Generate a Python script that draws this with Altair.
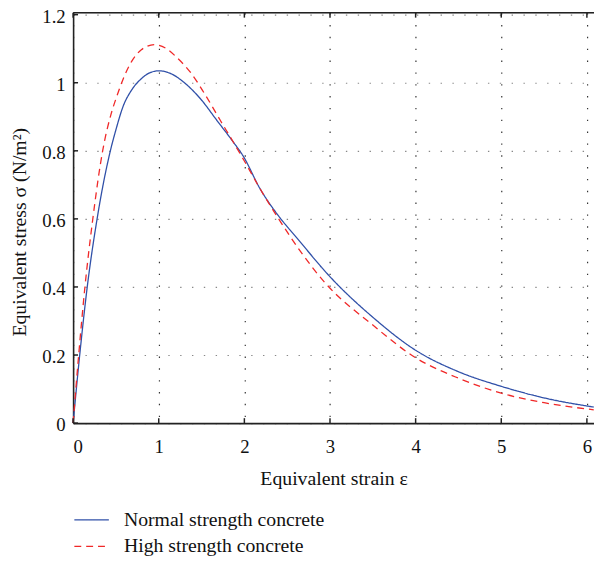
import altair as alt
import pandas as pd

# ---- data ----
normal_strain = [0, 0.077, 0.165, 0.28, 0.435, 0.5, 0.586, 0.682, 0.797, 0.893, 1.0, 1.14, 1.30,
                 1.49, 1.68, 1.87, 1.985, 2.18, 2.41, 2.61, 3.0, 3.5, 4.0, 4.5, 5.0, 5.5, 6.08]
normal_stress = [0, 0.2, 0.4, 0.6, 0.8, 0.862, 0.932, 0.978, 1.012, 1.029, 1.035, 1.027, 1.0,
                 0.952, 0.889, 0.826, 0.785, 0.69, 0.605, 0.545, 0.43, 0.311, 0.214, 0.151, 0.108, 0.074, 0.047]

high_strain = [0, 0.065, 0.138, 0.23, 0.345, 0.44, 0.51, 0.586, 0.682, 0.797, 0.95, 1.085, 1.22,
               1.375, 1.53, 1.72, 1.87, 2.0, 2.18, 2.40, 2.95, 3.5, 4.0, 4.5, 5.0, 5.5, 6.08]
high_stress = [0, 0.2, 0.4, 0.6, 0.8, 0.905, 0.96, 1.012, 1.062, 1.097, 1.112, 1.101, 1.072,
               1.029, 0.97, 0.889, 0.826, 0.77, 0.69, 0.6, 0.41, 0.288, 0.192, 0.132, 0.088, 0.060, 0.039]

series_names = ["Normal strength concrete", "High strength concrete"]
series_colors = ["#3050A8", "#F02828"]
x_ticks = [0, 1, 2, 3, 4, 5, 6]
y_ticks = [0, 0.2, 0.4, 0.6, 0.8, 1.0, 1.2]

rows = []
for s, v in zip(normal_strain, normal_stress):
    rows.append({"strain": s, "stress": v, "series": series_names[0]})
for s, v in zip(high_strain, high_stress):
    rows.append({"strain": s, "stress": v, "series": series_names[1]})
df = pd.DataFrame(rows)
xt = pd.DataFrame({"v": x_ticks})
yt = pd.DataFrame({"v": y_ticks})

W, H = 528, 416
FONT = "Liberation Serif"
xscale = alt.Scale(domain=[0, 6.083], nice=False, zero=False)
yscale = alt.Scale(domain=[0, 1.2058], nice=False, zero=False)

lines = alt.Chart(df).mark_line(strokeWidth=1.3, interpolate="monotone").encode(
    x=alt.X("strain:Q", scale=xscale,
            axis=alt.Axis(values=x_ticks, title="Equivalent strain ε", format="d",
                          grid=True, gridColor="#333", gridDash=[1.4, 10.6], gridWidth=1.2,
                          ticks=False, domainColor="#222", domainWidth=1.6,
                          labelFont=FONT, labelFontSize=19, labelColor="#111", labelPadding=15,
                          titleFont=FONT, titleFontSize=20, titleFontWeight="normal",
                          titleColor="#111", titlePadding=12)),
    y=alt.Y("stress:Q", scale=yscale,
            axis=alt.Axis(values=y_ticks, title="Equivalent stress σ (N/m²)", format="~g",
                          grid=True, gridColor="#888", gridDash=[1.4, 10.6], gridWidth=1.2,
                          ticks=False, domainColor="#222", domainWidth=1.6,
                          labelFont=FONT, labelFontSize=19, labelColor="#111", labelPadding=8,
                          labelOffset=2,
                          titleFont=FONT, titleFontSize=20, titleFontWeight="normal",
                          titleColor="#111", titleAngle=270, titleBaseline="middle",
                          titleAlign="center", titleX=-54, titleY=222)),
    color=alt.Color("series:N", scale=alt.Scale(domain=series_names, range=series_colors),
                    legend=alt.Legend(title=None, orient="none", legendX=8.75, legendY=504,
                                      symbolType="M-2,0H2", symbolSize=306, symbolStrokeWidth=1.3,
                                      labelFont=FONT, labelFontSize=20, labelColor="#111",
                                      labelLimit=0, labelOffset=22.75, rowPadding=7)),
    strokeDash=alt.StrokeDash("series:N", scale=alt.Scale(domain=series_names, range=[[1, 0], [7, 5]]),
                              legend=None),
)

tick_style = dict(color="#222", strokeWidth=1.5)
xb = alt.Chart(xt).mark_rule(**tick_style).encode(
    x=alt.X("v:Q", scale=xscale), y=alt.value(H), y2=alt.value(H - 5))
xtop = alt.Chart(xt).mark_rule(**tick_style).encode(
    x=alt.X("v:Q", scale=xscale), y=alt.value(0), y2=alt.value(5))
yl = alt.Chart(yt).mark_rule(**tick_style).encode(
    y=alt.Y("v:Q", scale=yscale), x=alt.value(0), x2=alt.value(5))
top = alt.Chart(xt.head(1)).mark_rule(color="#222", strokeWidth=1.6).encode(
    x=alt.value(0), x2=alt.value(W), y=alt.value(0))

chart = alt.layer(lines, xb, xtop, yl, top).properties(
    width=W, height=H,
    autosize=alt.AutoSizeParams(type="none"),
    padding={"left": 66, "top": 1, "right": 0, "bottom": 134},
).configure_view(stroke=None).configure(background="white")

chart.save("out.html", embed_options={"renderer": "svg", "actions": False})
